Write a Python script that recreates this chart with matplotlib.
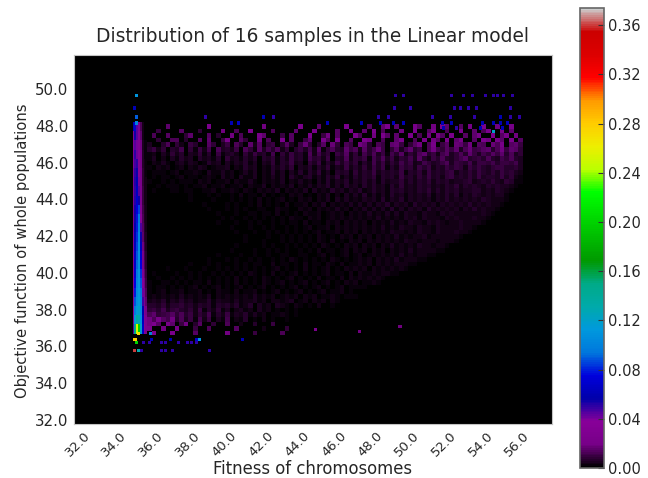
import numpy as np
import matplotlib
matplotlib.use('Agg')
import matplotlib.pyplot as plt

# Density estimates.
# Field: one hex digit per cell, top row is y = 48.1, cells are 0.25 wide and high
field_rows = [
    "0000800000000c0000000000090000000b000800000c00007008c08000a70090c80070a00c00900a00",
    "0050000700040000900600b0000600008000a0000700a0080c06000900c007a00600b00806c00a0800",
    "060070004800070300906000a8000507000b005907000a60090b70800c06090a70c00708a00c07a090",
    "00400660300708005a00740090600c07005800a60b00700c9006008b0060a0970c08a0070c90a80c07",
    "3004705206400850360740928056048306a50480a50760b9407609a6058b07c0680a96b0870a7c0896",
    "4625043705162708342608519374825046372915843a682947b605937a4608c7596a38b679a48c6a95",
    "2314263514362517245316374528163745293846175a36285947285a3649b5738a4695b7486a7b5946",
    "2413142534163425173426351647253846295738164a3758296a4837594b6385a6479b5786a6497a64",
    "1324213524312635142536241537264835174826395847263a58374a6935a7468b5976a5897a6897a5",
    "2132412314253124351426351426374815362748253947384a59274a68396a47596a8497a6589a6785",
    "1223124132431523624135261437251637284936185739485a47685a37694a5869a47695a8596a7954",
    "1212312413212431524163251436251743682537492638475938574a68495a6849a57696a5875a6943",
    "2112131223142513241532631425361427351638264837495938476a48596a48695768a5686a75a832",
    "1121223121324132513241532614253715263748263947285947395a47586947596a58697586976421",
    "1211122132113241324215314253614253716253847264835947386947596a48596857698575964210",
    "1112112213121324123251432513241536241537162837493847495847586947596a48697586874210",
    "1011121123122132213241325142351426352637284736485739486947586847596857685976654100",
    "1110111212113122132412315241325143625372635473847385948574958674868576957686542100",
    "0111101121212311231324213421534215362536473625473847394847584968576847696756421000",
    "1010111012121123122312431342513241533624537263748374839485748574968576576864210000",
    "0111010111212112313214231324132543163524635473647384736485948675486957586642100000",
    "1001110110121213121322413213241342513425362546372637483748574859647586765421000000",
    "0101010111011212113121322413213241352436253637463748374857485748657686542100000000",
    "1010011001111211212312132231324132413524352637253647385746385748567865321000000000",
    "0100101101011112121213122131241323142531425362537263748364758465767642100000000000",
    "1010110100111211121223121322132413241532514263526374637485647564765310000000000000",
    "0110101110121112121312212313213241324153241536253716384736485746532100000000000000",
    "1011021011211212213122132132413213241523413526352637263748365764421000000000000000",
    "0211102121121213212231232132143213421352413523624536374836475432100000000000000000",
    "1122112112221312231322314213241532413241532413635263748375643210000000000000000000",
    "2112212213122313221323143215243142513425315243635273647564321000000000000000000000",
    "1221322132213223142314232413524132514235241536352637463542100000000000000000000000",
    "2312213223142231423142531425132451324135243152634637543210000000000000000000000000",
    "2132231423241324132513241532413523142513425163536453211000000000000000000000000000",
    "3213324132432514231524132541351423524135241536243532100000000000000000000000000000",
    "3234132423514235142351423514241352413524135243432110000000000000000000000000000000",
    "4235243524351425342514352413524135241352435132211000000000000000000000000000000000",
    "3524352634253614253425362425134241524132431322100000000000000000000000000000000000",
    "4536254635243625342524352413423512413241321100000000000000000000000000000000000000",
    "5647365746354625463523514231432132121311201000000000000000000000000000000000000000",
    "6758467546372536241342314231212121011010000000000000000000000000000000000000000000",
    "8a5679584625371426132413120112101000000000000000000000000000000000000000000000000",
    "a7b86a4735162503160214010201001000000000000000000000000000000000000000000000000000",
    "9c70a805903700400600200300050000000000000000000000000000000000000000000000000000",
    "c00900a00050060000070000020000400000000000000000000000000000000000000000000000000",
    "0d000b0000700000090000050000060000000000000000000000000000000000000000000000000000",
]
# Size of one digit for each row of field_rows
field_steps = [0.002, 0.002, 0.002, 0.002, 0.0017, 0.0015, 0.0014, 0.0012, 0.0011, 0.001,
               0.0009, 0.0009, 0.0008, 0.0008, 0.0008, 0.0007, 0.0007, 0.0007, 0.0007, 0.0006,
               0.0006, 0.0006, 0.0006, 0.0006, 0.0006, 0.0006, 0.0006, 0.0006, 0.0006, 0.0006,
               0.0006, 0.0006, 0.0006, 0.0006, 0.0006, 0.0007, 0.0007, 0.0008, 0.001, 0.0012,
               0.0014, 0.0016, 0.0018, 0.002, 0.002, 0.002]

# Column at the left edge: x bins of 0.1 from 35.0, top row starts at y = 48.2, rows are 0.5 high
column_rows = [
    [0.060, 0.070, 0.045, 0.025, 0.012, 0.004, 0.000, 0.000],
    [0.030, 0.055, 0.045, 0.030, 0.016, 0.004, 0.001, 0.000],
    [0.032, 0.045, 0.040, 0.032, 0.018, 0.005, 0.002, 0.002],
    [0.028, 0.050, 0.042, 0.033, 0.020, 0.006, 0.002, 0.002],
    [0.030, 0.048, 0.050, 0.033, 0.020, 0.007, 0.003, 0.002],
    [0.024, 0.050, 0.055, 0.035, 0.021, 0.008, 0.003, 0.002],
    [0.026, 0.052, 0.060, 0.040, 0.022, 0.008, 0.003, 0.003],
    [0.022, 0.050, 0.065, 0.045, 0.024, 0.009, 0.004, 0.003],
    [0.024, 0.052, 0.070, 0.055, 0.025, 0.010, 0.004, 0.003],
    [0.022, 0.055, 0.075, 0.085, 0.030, 0.011, 0.005, 0.004],
    [0.024, 0.055, 0.078, 0.095, 0.036, 0.012, 0.005, 0.004],
    [0.026, 0.058, 0.080, 0.100, 0.046, 0.014, 0.006, 0.004],
    [0.028, 0.060, 0.082, 0.104, 0.055, 0.016, 0.007, 0.005],
    [0.028, 0.062, 0.085, 0.106, 0.062, 0.018, 0.009, 0.005],
    [0.030, 0.065, 0.088, 0.108, 0.068, 0.022, 0.011, 0.006],
    [0.030, 0.068, 0.092, 0.108, 0.075, 0.024, 0.013, 0.007],
    [0.030, 0.070, 0.096, 0.110, 0.082, 0.030, 0.015, 0.008],
    [0.030, 0.075, 0.100, 0.110, 0.088, 0.036, 0.018, 0.010],
    [0.032, 0.080, 0.104, 0.112, 0.094, 0.042, 0.021, 0.012],
    [0.034, 0.088, 0.108, 0.115, 0.100, 0.048, 0.026, 0.015],
    [0.036, 0.098, 0.115, 0.120, 0.104, 0.056, 0.030, 0.020],
    [0.040, 0.115, 0.135, 0.130, 0.108, 0.064, 0.032, 0.025],
    [0.045, 0.150, 0.250, 0.200, 0.120, 0.068, 0.035, 0.025],
]

# Isolated bright cells outside the main block
spot_x = [35.2, 35.1, 35.2, 35.2,
          49.34, 49.78, 52.4, 53.06, 53.55, 54.26, 54.7, 54.91, 55.24, 55.73,
          49.29, 50.16, 52.57, 52.89, 53.33, 53.77, 55.62,
          38.96, 42.13, 42.67, 48.41, 48.96, 51.36, 52.35, 53.66, 55.08, 55.62, 56.12,
          40.38, 40.76, 45.62, 47.48, 48.52, 49.23, 49.78, 51.91, 52.4, 54.1, 54.7, 55.08, 55.46,
          51.96, 52.67, 53.99, 55.19, 54.7,
          35.13, 36.05, 37.05, 38.47, 38.63, 40.98,
          35.2, 35.6, 35.9, 36.6, 36.8, 37.5, 38.0, 38.2, 38.5,
          35.1, 35.3, 35.5, 36.6, 36.8, 37.2, 39.2,
          35.3, 36.0, 45.0, 49.6, 47.4]
spot_y = [49.67, 48.97, 48.48, 48.15,
          49.67, 49.67, 49.67, 49.67, 49.67, 49.67, 49.67, 49.67, 49.67, 49.67,
          48.97, 48.97, 48.97, 48.97, 48.97, 48.97, 48.97,
          48.48, 48.48, 48.48, 48.48, 48.48, 48.48, 48.48, 48.48, 48.48, 48.48, 48.48,
          48.15, 48.15, 48.15, 48.15, 48.15, 48.15, 48.15, 48.15, 48.15, 48.15, 48.15, 48.15, 48.15,
          47.88, 47.88, 47.88, 47.88, 47.7,
          36.4, 36.4, 36.4, 36.4, 36.4, 36.4,
          36.2, 36.2, 36.2, 36.2, 36.2, 36.2, 36.2, 36.2, 36.2,
          35.8, 35.8, 35.8, 35.8, 35.8, 35.8, 35.8,
          36.7, 36.7, 36.9, 37.1, 36.8]
spot_v = [0.110, 0.060, 0.090, 0.100,
          0.050, 0.050, 0.050, 0.050, 0.050, 0.050, 0.050, 0.050, 0.050, 0.050,
          0.050, 0.050, 0.050, 0.050, 0.050, 0.050, 0.050,
          0.050, 0.060, 0.050, 0.050, 0.050, 0.050, 0.050, 0.050, 0.060, 0.050, 0.050,
          0.060, 0.065, 0.060, 0.060, 0.060, 0.060, 0.060, 0.060, 0.060, 0.060, 0.060, 0.060, 0.060,
          0.060, 0.050, 0.060, 0.060, 0.120,
          0.280, 0.060, 0.060, 0.070, 0.110, 0.060,
          0.200, 0.050, 0.050, 0.050, 0.050, 0.050, 0.050, 0.050, 0.050,
          0.360, 0.130, 0.050, 0.050, 0.050, 0.050, 0.050,
          0.270, 0.100, 0.022, 0.018, 0.018]

xticks = np.arange(32, 57, 2)
yticks = np.arange(32, 51, 2)
cbar_ticks = [0.00, 0.04, 0.08, 0.12, 0.16, 0.20, 0.24, 0.28, 0.32, 0.36]

field = np.array([[int(c, 16) * step for c in r.ljust(82, '0')] for r, step in zip(field_rows, field_steps)])
field_x = 35.8 + 0.25 * np.arange(83)
field_y = 48.1 - 0.25 * np.arange(len(field_rows) + 1)
column = np.array(column_rows)
column_x = 35.0 + 0.1 * np.arange(9)
column_y = 48.2 - 0.5 * np.arange(len(column_rows) + 1)

text_color = '#262626'
fig = plt.figure(figsize=(6.48, 4.78), dpi=100)
ax = fig.add_axes([74 / 648, 1 - 424 / 478, 478 / 648, 369 / 478], facecolor='black')

norm = plt.Normalize(0, 0.374)
cmap = 'nipy_spectral'
ax.pcolormesh(field_x, field_y, field, cmap=cmap, norm=norm)
mesh = ax.pcolormesh(column_x, column_y, column, cmap=cmap, norm=norm)
ax.scatter(spot_x, spot_y, c=spot_v, cmap=cmap, norm=norm, marker='s', s=5, linewidths=0)

ax.set_xlim(31.8, 57.9)
ax.set_ylim(31.78, 51.85)
ax.set_xticks(xticks)
ax.set_yticks(yticks)
ax.set_xticklabels(['%.1f' % t for t in xticks], rotation=45, ha='center', fontsize=9.5, color=text_color)
ax.set_yticklabels(['%.1f' % t for t in yticks], fontsize=10.8, color=text_color)
ax.tick_params(axis='both', length=0)
ax.tick_params(axis='x', pad=4)
ax.tick_params(axis='y', pad=4)
for spine in ax.spines.values():
    spine.set_color('#c4c4c4')

ax.set_xlabel('Fitness of chromosomes', fontsize=11.9, color=text_color, labelpad=0)
ax.set_ylabel('Objective function of whole populations', fontsize=10.6, color=text_color, labelpad=4, y=0.47)
ax.set_title('Distribution of 16 samples in the Linear model', fontsize=13.4, color=text_color, pad=9)

cax = fig.add_axes([580 / 648, 1 - 468 / 478, 24 / 648, 460 / 478])
cbar = fig.colorbar(mesh, cax=cax, ticks=cbar_ticks)
cbar.ax.set_yticklabels(['%.2f' % t for t in cbar_ticks], fontsize=10.5, color=text_color)
cbar.ax.tick_params(direction='in', length=4, width=0.8, color='#333333', pad=3)
cbar.outline.set_edgecolor('#666666')
cbar.outline.set_linewidth(1.2)

fig.savefig('out.png', dpi=100)
